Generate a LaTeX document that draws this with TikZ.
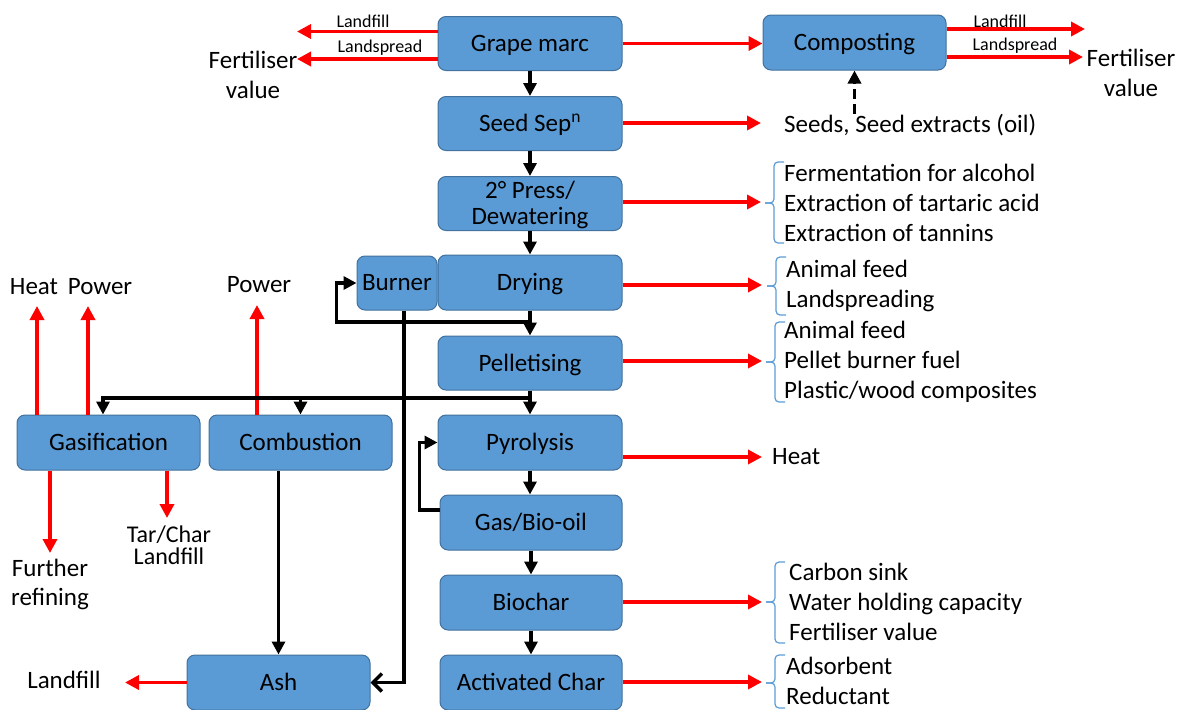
\documentclass[tikz,border=0pt]{standalone}
\usepackage{fontspec}
\setmainfont{Carlito}
\usetikzlibrary{arrows.meta}
\definecolor{boxblue}{HTML}{5B9BD5}
\definecolor{boxedge}{HTML}{41719C}
\definecolor{rd}{HTML}{FF0000}
\newcommand\fA{\fontsize{25}{30}\selectfont}
\newcommand\fB{\fontsize{18}{20}\selectfont}
\newcommand\mybrace[4]{%
  \draw[brc] (#1+10,#2) -- (#1,#2) -- (#1,#3) -- (#1-9,#3);
  \draw[brc] (#1+10,#4) -- (#1,#4) -- (#1,#3) -- (#1-9,#3);}
\begin{document}
\begin{tikzpicture}[x=1pt,y=-1pt,
  box/.style={draw=boxedge, line width=1pt, fill=boxblue, rounded corners=8pt,
    minimum width=184pt, minimum height=54pt, inner sep=0pt, font=\fA, align=center,
    text depth=1pt},
  rarr/.style={draw=rd, line width=3.5pt, -{Triangle[width=14pt,length=14pt]}},
  barr/.style={draw=black, line width=3.5pt, -{Triangle[width=13pt,length=13pt]}},
  brc/.style={draw=boxblue, line width=1.2pt, rounded corners=4pt},
  txt/.style={font=\fA, inner sep=0pt, align=center},
  lst/.style={font=\fA, inner sep=0pt, align=left, anchor=west},
  stxt/.style={font=\fB, inner sep=0pt}]
\useasboundingbox (0,0) rectangle (1179,710);

% boxes
\node[box] (gm) at (530,43.5) {Grape marc};
\node[box, minimum width=183pt, minimum height=55pt] (comp) at (854.5,42.5) {Composting};
\node[box] (seed) at (530,123.5) {Seed Sep\textsuperscript{n}};
\node[box, font=\fontsize{25}{26}\selectfont] (press) at (530,203.5) {2° Press/\\Dewatering};
\node[box, minimum width=80pt] (burner) at (397,283) {Burner};
\node[box, minimum height=55pt] (dry) at (530,282.5) {Drying};
\node[box] (pel) at (530,363) {Pelletising};
\node[box, minimum width=183pt, minimum height=55pt] (gas) at (108.5,442.5) {Gasification};
\node[box, minimum width=183pt, minimum height=55pt] (comb) at (300.5,442.5) {Combustion};
\node[box, minimum height=55pt] (pyr) at (530,442.5) {Pyrolysis};
\node[box, minimum width=182pt, minimum height=55pt] (gbo) at (531,522.5) {Gas/Bio-oil};
\node[box, minimum width=182pt, minimum height=55pt] (bio) at (531,602.5) {Biochar};
\node[box, minimum width=183pt, minimum height=55pt] (ash) at (278.5,682.5) {Ash};
\node[box, minimum width=182pt, minimum height=55pt] (ac) at (531,682.5) {Activated Char};

% texts
\node[stxt] (lf1) at (363,21) {Landfill};
\node[stxt] (ls1) at (380,48) {Landspread};
\node[txt] (fv1) at (253,75) {Fertiliser\\value};
\node[stxt] (lf2) at (1000,21) {Landfill};
\node[stxt] (ls2) at (1015,46) {Landspread};
\node[txt] (fv2) at (1131,73) {Fertiliser\\value};
\node[lst] (seeds) at (784,125) {Seeds, Seed extracts (oil)};
\node[lst] (l1) at (784,203) {Fermentation for alcohol\\Extraction of tartaric acid\\Extraction of tannins};
\node[lst] (l2) at (786,286) {Animal feed\\Landspreading};
\node[lst] (l3) at (784,362) {Animal feed\\Pellet burner fuel\\Plastic/wood composites};
\node[lst] (heat) at (772,457) {Heat};
\node[lst] (l4) at (789,602) {Carbon sink\\Water holding capacity\\Fertiliser value};
\node[lst] (l5) at (786,681) {Adsorbent\\Reductant};
\node[txt] (gheat) at (34,287) {Heat};
\node[txt] (gpow) at (100,287) {Power};
\node[txt] (cpow) at (259,285) {Power};
\node[txt, font=\fontsize{25}{29}\selectfont] (fur) at (50,584) {Further\\refining};
\node[txt, font=\fontsize{24}{22.5}\selectfont] (tar) at (169,545) {Tar/Char\\Landfill};
\node[txt] (alf) at (64,680) {Landfill};

% braces
\mybrace{774}{162}{203}{243}
\mybrace{776}{257}{286}{315}
\mybrace{775}{322}{362}{402}
\mybrace{775}{562}{602}{643}
\mybrace{775}{655}{683}{708}

% red arrows
\coordinate (tL1) at (297,31.5);
\coordinate (tL2) at (297,59);
\draw[rarr] (gm.west |- tL1) -- (tL1);
\draw[rarr] (gm.west |- tL2) -- (tL2);
\draw[rarr] (gm.east) -- (gm.east -| comp.west);
\coordinate (tR1) at (1085,29);
\coordinate (tR2) at (1083,57);
\draw[rarr] (comp.east |- tR1) -- (tR1);
\draw[rarr] (comp.east |- tR2) -- (tR2);
\coordinate (t0) at (761,123);
\draw[rarr] (seed.east |- t0) -- (t0);
\coordinate (t1) at (761,202);
\draw[rarr] (press.east |- t1) -- (t1);
\coordinate (t2) at (762,285);
\draw[rarr] (dry.east |- t2) -- (t2);
\coordinate (t3) at (762,361);
\draw[rarr] (pel.east |- t3) -- (t3);
\coordinate (t4) at (762,457);
\draw[rarr] (pyr.east |- t4) -- (t4);
\coordinate (t5) at (762,602);
\draw[rarr] (bio.east |- t5) -- (t5);
\coordinate (t6) at (762,682);
\draw[rarr] (ac.east |- t6) -- (t6);
\coordinate (ta) at (125,682.5);
\draw[rarr] (ash.west) -- (ta);
\coordinate (gh) at (37,306);
\coordinate (gp) at (88,306);
\coordinate (cp) at (257,305);
\draw[rarr] (gas.north -| gh) -- (gh);
\draw[rarr] (gas.north -| gp) -- (gp);
\draw[rarr] (comb.north -| cp) -- (cp);
\coordinate (gf) at (50,553);
\coordinate (gt) at (167,518);
\draw[rarr] (gas.south -| gf) -- (gf);
\draw[rarr] (gas.south -| gt) -- (gt);

% black arrows
\draw[barr, dash pattern=on 10pt off 5pt] (comp.south |- seeds.north) -- (comp.south);
\draw[barr] (gm.south) -- (seed.north);
\draw[barr] (seed.south) -- (press.north);
\draw[barr] (press.south) -- (dry.north);
\draw[barr] (dry.south) -- (pel.north);
\coordinate (j1) at (530,322);
\draw[barr] (j1) -| ([xshift=-20pt]burner.west) -- (burner.west);
\draw[barr] (pel.south) -- (pyr.north);
\coordinate (j2) at (530,398);
\draw[barr] (j2) -| ([xshift=-5.5pt]gas.north);
\draw[barr] (comb.north |- j2) -- (comb.north);
\draw[barr] (pyr.south) -- (pyr.south |- gbo.north);
\draw[barr] ([yshift=12.5pt]gbo.west) -- ++(-20,0) |- (pyr.west);
\draw[barr] (gbo.south) -- (bio.north);
\draw[barr] (bio.south) -- (ac.north);
\draw[barr] (ash.north |- comb.south) -- (ash.north);
\draw[line width=3.5pt, -{Straight Barb[width=18pt,length=9pt]}] ([xshift=7pt]burner.south) |- (ash.east);
\end{tikzpicture}
\end{document}
